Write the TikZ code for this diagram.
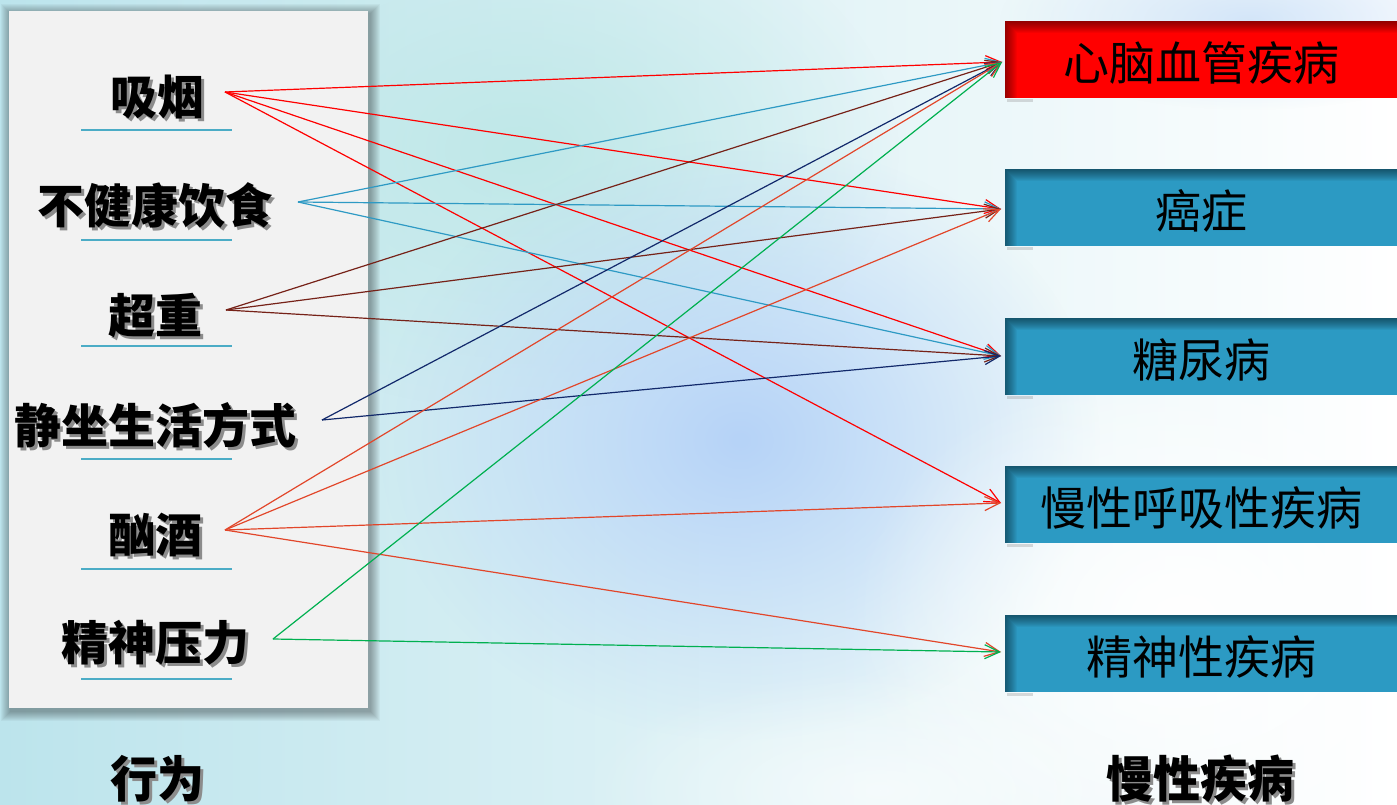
\documentclass[tikz,border=0pt]{standalone}
\usepackage{fontspec}
\newfontfamily\cjk{Noto Sans CJK SC}
\usetikzlibrary{arrows.meta,fadings}
\definecolor{panelgray}{HTML}{F2F2F2}
\definecolor{uline}{HTML}{4BACC6}
\definecolor{boxteal}{HTML}{2C9AC3}
\definecolor{boxred}{HTML}{FF0000}
\definecolor{cRed}{HTML}{FF0000}
\definecolor{cBlue}{HTML}{2E9AC4}
\definecolor{cMaroon}{HTML}{762218}
\definecolor{cNavy}{HTML}{12296B}
\definecolor{cOrange}{HTML}{E2462A}
\definecolor{cGreen}{HTML}{00B050}
\definecolor{bgA}{HTML}{BCE4EC}
\definecolor{bgB}{HTML}{C4DCF7}
\definecolor{blobBlue}{HTML}{B6D3F8}
\definecolor{blobCyan}{HTML}{BFE8E8}
\tikzfading[name=softblob, inner color=transparent!0, outer color=transparent!100]
\newcommand{\innershade}[1]{%
  \foreach \i in {1,...,12} {
    \fill[black, opacity=0.045] ([xshift=0pt,yshift=0pt]#1.north west) rectangle ([yshift=-\i pt]#1.north east);
    \fill[black, opacity=0.04] ([yshift=-\i pt]#1.north west) rectangle ([xshift=\i pt]#1.south west);
  }%
  \fill[black!40, opacity=0.35] ([xshift=2pt,yshift=-0.5pt]#1.south west) rectangle ([xshift=28pt,yshift=-4pt]#1.south west);
}
\begin{document}
\begin{tikzpicture}[x=1pt,y=-1pt,
  lbl/.style={font=\cjk\bfseries\fontsize{47}{50}\selectfont, inner sep=0pt, text=black},
  lblshadow/.style={lbl, text=black!45},
  dbox/.style={rectangle, minimum width=392pt, minimum height=77pt, inner sep=0pt},
  tealbox/.style={dbox, fill=boxteal},
  redbox/.style={dbox, fill=boxred},
  dtext/.style={font=\cjk\fontsize{46}{50}\selectfont, inner sep=0pt, text=black},
  conn/.style={line width=1.2pt, -{Straight Barb[length=15pt,width=14pt]}},
  ul/.style={uline, line width=1.5pt}
]
\useasboundingbox (0,0) rectangle (1397,805);
% background
\fill[white] (0,0) rectangle (1397,805);
\shade[left color=bgA, middle color=bgB, right color=white] (0,0) rectangle (1397,805);
\fill[blobCyan, path fading=softblob] (520,150) ellipse (380 and 260);
\fill[blobBlue, path fading=softblob] (740,440) ellipse (360 and 300);
\fill[white, path fading=softblob] (1180,620) ellipse (330 and 260);
\fill[white, opacity=0.6, path fading=softblob] (880,790) ellipse (300 and 120);
\fill[bgB, opacity=0.7, path fading=softblob] (1250,20) ellipse (250 and 90);

% left panel with shadow
\foreach \r in {1,...,10} {
  \fill[black, opacity=0.035] (9-\r+2,11-\r+3) rectangle (368+\r+2,708+\r+3);
}
\fill[panelgray] (9,11) rectangle (368,708);

% behaviour labels
\node[lblshadow] (l1s) at (160,100) {吸烟};
\node[lbl] (l1) at (157,97) {吸烟};
\node[lblshadow] (l2s) at (158,208) {不健康饮食};
\node[lbl] (l2) at (155,205) {不健康饮食};
\node[lblshadow] (l3s) at (158,319) {超重};
\node[lbl] (l3) at (155,316) {超重};
\node[lblshadow] (l4s) at (158,428) {静坐生活方式};
\node[lbl] (l4) at (155,425) {静坐生活方式};
\node[lblshadow] (l5s) at (158,538) {酗酒};
\node[lbl] (l5) at (155,535) {酗酒};
\node[lblshadow] (l6s) at (158,646) {精神压力};
\node[lbl] (l6) at (155,643) {精神压力};

\draw[ul] (81,130) -- (232,130);
\draw[ul] (81,240) -- (232,240);
\draw[ul] (81,346) -- (232,346);
\draw[ul] (81,459) -- (232,459);
\draw[ul] (81,569) -- (232,569);
\draw[ul] (81,679) -- (232,679);

% disease boxes
\node[redbox,  anchor=west] (d1) at (1005,59.5) {};
\node[tealbox, anchor=west] (d2) at (1005,207.5) {};
\node[tealbox, anchor=west] (d3) at (1005,356.5) {};
\node[tealbox, anchor=west] (d4) at (1005,504.5) {};
\node[tealbox, anchor=west] (d5) at (1005,653.5) {};
\innershade{d1}
\innershade{d2}
\innershade{d3}
\innershade{d4}
\innershade{d5}
\node[dtext] (d1t) at (1201,63) {心脑血管疾病};
\node[dtext] (d2t) at (1201,211) {癌症};
\node[dtext] (d3t) at (1201,360) {糖尿病};
\node[dtext] (d4t) at (1201,508) {慢性呼吸性疾病};
\node[dtext] (d5t) at (1201,657) {精神性疾病};

% connector endpoints
\coordinate (s1) at (225,92);
\coordinate (s2) at (298,202);
\coordinate (s3) at (226,310);
\coordinate (s4) at (322,420);
\coordinate (s5) at (225,530);
\coordinate (s6) at (273,639);
\coordinate (t1) at (1002,62);
\coordinate (t2) at (1001,209);
\coordinate (t3) at (1001,356);
\coordinate (t4) at (1001,503);
\coordinate (t5) at (1001,652);

% connectors
\draw[conn, cRed] (s1) -- (t1);
\draw[conn, cRed] (s1) -- (t2);
\draw[conn, cRed] (s1) -- (t3);
\draw[conn, cRed] (s1) -- (t4);
\draw[conn, cBlue] (s2) -- (t1);
\draw[conn, cBlue] (s2) -- (t2);
\draw[conn, cBlue] (s2) -- (t3);
\draw[conn, cMaroon] (s3) -- (t1);
\draw[conn, cMaroon] (s3) -- (t2);
\draw[conn, cMaroon] (s3) -- (t3);
\draw[conn, cNavy] (s4) -- (t1);
\draw[conn, cNavy] (s4) -- (t3);
\draw[conn, cOrange] (s5) -- (t1);
\draw[conn, cOrange] (s5) -- (t2);
\draw[conn, cOrange] (s5) -- (t4);
\draw[conn, cOrange] (s5) -- (t5);
\draw[conn, cGreen] (s6) -- (t1);
\draw[conn, cGreen] (s6) -- (t5);

% column titles
\node[lblshadow] (b1s) at (160,782) {\scalebox{1}[1.05]{行为}};
\node[lbl] (b1) at (157,779) {\scalebox{1}[1.05]{行为}};
\node[lblshadow] (b2s) at (1203,782) {\scalebox{1}[1.05]{慢性疾病}};
\node[lbl] (b2) at (1200,779) {\scalebox{1}[1.05]{慢性疾病}};
\end{tikzpicture}
\end{document}
